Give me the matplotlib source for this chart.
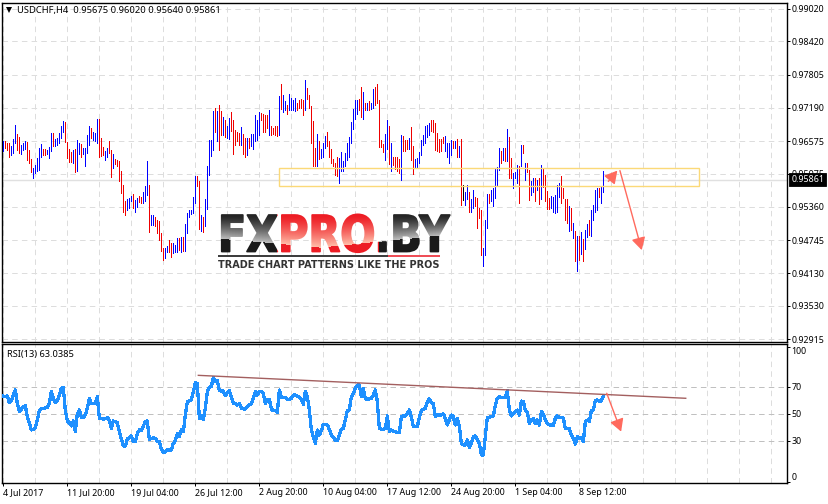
import numpy as np
import matplotlib
matplotlib.use("Agg")
import matplotlib.pyplot as plt
import matplotlib.patheffects as pe
from matplotlib.patches import Rectangle
from matplotlib.transforms import Affine2D, Bbox
from matplotlib.ticker import FixedLocator

W, H = 829, 504
plt.rcParams['font.family'] = ['Noto Sans', 'DejaVu Sans']

# ---------- data (prices in pips: 9658 = 0.9658) ----------
highs_a = [9658,9658,9654,9654,9649,9661,9687,9671,9665,9651,
9655,9658,9656,9641,9624,9608,9613,9627,9645,9652,
9643,9643,9641,9646,9672,9672,9662,9664,9672,9686,
9695,9693,9656,9643,9637,9641,9643,9660,9654,9652,
9645,9645,9669,9686,9682,9675,9672,9698,9698,9663,
9646,9640,9645,9657,9641,9634,9625,9623,9621,9603,
9577,9546,9550,9552,9556,9559,9549,9553,9556,9555,
9564,9574,9621,9577,9521,9521,9517,9512,9509,9487,
9460,9460,9464,9475,9470,9469,9466,9479,9478,9480,
9481,9505,9524,9530,9530,9555,9593,9593,9584,9521,
9518,9551,9611,9660,9660,9714,9719,9714,9724,9714,
9703,9696,9686,9700,9711,9697,9678,9674,9672,9683,
9670,9663,9663,9664,9670,9670,9706,9696,9711,9709,
9707,9706,9705,9715,9685,9682,9685,9686,9741]
lows_a = [9640,9645,9641,9629,9632,9635,9655,9641,9635,9634,
9641,9643,9623,9617,9600,9590,9598,9603,9604,9628,
9632,9631,9634,9627,9640,9648,9648,9651,9655,9663,
9674,9656,9626,9619,9619,9617,9600,9603,9634,9629,
9634,9612,9635,9650,9663,9660,9657,9655,9628,9630,
9632,9623,9628,9635,9592,9608,9616,9612,9584,9561,
9527,9521,9530,9534,9546,9534,9527,9535,9545,9544,
9543,9546,9558,9490,9503,9503,9500,9487,9474,9455,
9437,9441,9452,9453,9444,9450,9453,9452,9456,9453,
9455,9455,9487,9518,9522,9524,9543,9574,9495,9492,
9489,9500,9532,9595,9630,9641,9675,9658,9641,9669,
9669,9666,9663,9661,9677,9634,9651,9658,9650,9650,
9634,9629,9632,9645,9648,9643,9657,9659,9669,9697,
9675,9674,9682,9669,9669,9670,9669,9667,9669]
dirs_a = ("brrrbbbrrb" "bbrrrbbbbb" "rrbbbrbbbb" "brrrrbrbbr" "bbbbrbbbrr"
          "rbbrrbrrrr" "rrbbbrbbrr" "bbbrbbrrrr" "rbbrrbbbrb" "rbbbbbbrrb"
          "rbbbbbrbrr" "brbbrrrrrb" "rrbrbbbbbr" "rrrbrrrrb")

highs_b = [9764,9742,9731,9725,9745,9738,9734,9737,9728,9733,
9735,9733,9771,9756,9743,9723,9694,9645,9670,9657,
9643,9655,9667,9675,9658,9643,9625,9617,9629,9627,
9637,9620,9635,9654,9666,9693,9717,9733,9734,9735,
9757,9749,9729,9728,9731,9729,9754,9757,9764,9734,
9660,9653,9671,9697,9685,9654,9629,9628,9628,9625,
9669,9667,9660,9660,9663,9683,9649,9624,9626,9637,
9660,9669,9686,9688,9692,9696,9697,9691,9672,9662,
9661,9665,9667,9655,9655,9659,9658,9657,9661,9649,
9661,9577,9564,9577,9564,9550,9567,9555,9552,9534,
9530,9460,9512,9559,9560,9567,9571,9608,9609,9645,
9640,9645,9645,9680,9665,9626,9598,9600,9614,9612,
9651,9651,9617,9617,9604,9583,9589,9589,9585,9589]
lows_b = [9717,9711,9716,9708,9716,9716,9716,9714,9716,9719,
9719,9706,9716,9735,9719,9655,9611,9611,9611,9625,
9626,9629,9645,9648,9629,9617,9611,9595,9593,9581,
9603,9603,9612,9623,9629,9655,9680,9698,9707,9716,
9703,9699,9716,9716,9716,9717,9719,9725,9728,9646,
9646,9638,9622,9643,9616,9603,9614,9606,9603,9598,
9585,9640,9640,9643,9643,9623,9597,9608,9608,9618,
9632,9651,9654,9666,9669,9677,9675,9641,9640,9638,
9640,9655,9640,9629,9618,9632,9645,9645,9629,9629,
9540,9549,9540,9550,9527,9526,9534,9537,9497,9515,
9447,9426,9447,9497,9543,9546,9537,9552,9575,9604,
9617,9623,9621,9621,9589,9589,9571,9589,9580,9543,
9611,9635,9586,9601,9549,9558,9564,9546,9567,9542]
dirs_b = ("rbbrbbbbrr" "rrbrrrrrbr" "bbbrrrrrrb" "bbbbbbbbbr" "rbrbrbbrrr"
          "rrbbrbrrrr" "brrrbrrbbb" "bbbbbrrrrr" "rrbbbbrbrb" "rkbbrbbrrr"
          "rbbbrbbbbb" "rbrbrrbbbr" "brbrrbbrbr")

highs_c = [9614,9606,9595,9566,9553,9556,9554,9558,9577,9580,
9593,9571,9551,9551,9537,9534,9506,9492,9482,9482,
9489,9476,9493,9505,9512,9530,9540,9567,9571,9571,
9572,9603]
lows_c = [9551,9572,9547,9532,9532,9534,9526,9524,9527,9555,
9543,9552,9512,9507,9492,9493,9478,9436,9418,9438,
9449,9436,9458,9481,9484,9482,9512,9527,9530,9555,
9543,9563]
dirs_c = "brrrrbbbbb" "rrrrbrbrbr" "brbbrbbbbr" "bb"

rsi_a = [63.6,63.1,63.6,58.6,60.1,64.3,68.0,58.1,52.0,53.7,
55.7,56.4,48.3,43.8,38.4,38.9,40.1,45.8,52.7,54.5,
54.5,54.7,55.0,58.1,66.8,61.9,58.6,59.9,64.3,69.3,
69.8,52.5,45.1,43.8,41.4,45.1,37.2,50.3,53.2,47.8,
47.8,49.5,54.5,61.9,58.1,58.1,58.1,63.1,47.1,47.1,
46.3,46.8,47.5,45.8,39.6,45.1,44.6,43.8,37.2,31.7,
26.6,26.6,31.7,32.7,34.0,29.8,29.8,35.9,38.4,37.9,
41.4,44.6,45.1,31.5,32.0,32.5,32.2,29.8,29.8,24.1,
22.1,22.1,23.6,23.6,23.6,28.5,30.3,35.9,33.5,38.4,
37.2,49.5,59.4,59.9,60.6,66.8,73.5,73.0,47.1,48.8,
46.3,54.5,66.8,70.0,70.5,77.4,74.2,74.9,67.5,67.3,
67.3,63.8,66.1,67.5,63.1,58.1,58.1,56.9,58.1,54.5,
54.0,54.0,55.7,56.9,58.1,61.9,66.8,64.3,66.8,66.8,
65.6,58.1,60.6,61.1,54.0,52.7,52.7,51.2,68.0]
rsi_b = [62.6,62.6,62.6,61.1,61.1,61.9,64.3,64.3,63.6,62.6,
61.4,57.4,66.8,63.1,53.2,38.4,33.5,28.5,38.4,34.7,
37.9,42.6,42.6,42.1,38.9,34.7,33.0,30.5,30.5,34.7,
38.9,39.6,45.8,52.7,53.2,63.1,65.6,69.3,71.7,71.7,
63.1,69.3,61.4,61.4,61.4,61.9,64.3,68.0,59.4,39.6,
38.9,38.9,39.6,48.8,37.2,38.4,37.2,37.2,36.4,36.4,
48.3,48.8,48.8,50.7,53.2,48.3,40.9,40.9,40.9,47.8,
52.7,53.7,54.5,59.4,61.4,58.6,58.1,48.3,49.5,49.5,
49.5,50.3,47.1,42.1,45.8,49.5,48.3,42.1,47.1,41.4,
28.5,27.3,27.3,31.0,25.6,28.5,33.5,34.0,31.0,28.5,
19.9,19.9,33.5,47.8,47.8,48.3,48.8,56.9,61.9,63.1,
62.3,62.6,62.6,67.5,53.2,48.8,50.3,52.0,53.2,49.5,
59.9,59.4,53.2,51.2,43.3,45.8,46.8,43.3,45.8,42.1]
rsi_c = [52.0,50.3,45.8,43.3,42.1,42.1,41.4,47.1,48.8,47.8,
47.8,47.1,39.6,39.6,39.6,34.7,32.2,28.0,33.5,32.2,
33.0,29.8,44.6,45.8,44.6,52.7,53.2,60.1,60.6,59.4,
60.1,63.0]

price_ticks = [0.99020,0.98420,0.97805,0.97190,0.96575,0.95975,0.95360,0.94745,0.94130,0.93530,0.92915]
last_price = 0.95861
rsi_ticks = [0,30,50,70,100]
time_labels = ['4 Jul 2017','11 Jul 20:00','19 Jul 04:00','26 Jul 12:00','2 Aug 20:00',
               '10 Aug 04:00','17 Aug 12:00','24 Aug 20:00','1 Sep 04:00','8 Sep 12:00']
zone_bars = (138, 348)
zone_prices = (0.9574, 0.9608)
arrow_up = ((302.5, 0.9583), (307.0, 0.9603))
arrow_down = ((308.3, 0.9603), (319.2, 0.9456))
rsi_trend = ((97.5, 78.9), (341.2, 61.9))
rsi_arrow = ((301.7, 65.6), (308.9, 37.2))

highs = np.array(highs_a + highs_b + highs_c) / 1e4
lows = np.array(lows_a + lows_b + lows_c) / 1e4
dirs = dirs_a + dirs_b + dirs_c
rsi = np.array(rsi_a + rsi_b + rsi_c)
idx = np.arange(len(highs))

# ---------- layout ----------
def add_axes(fig, l, t, r, b):
    return fig.add_axes([l/W, 1-b/H, (r-l)/W, (b-t)/H])

fig = plt.figure(figsize=(W/100, H/100), dpi=100, facecolor='white')
ax = add_axes(fig, 2.5, 2.5, 786.7, 342.3)
ar = add_axes(fig, 2.5, 344.3, 786.7, 483.3)
xlim = (-0.415, 391.68)
PX = 0.72
GRID = '#dddddd'
DASH = (0, (5.5, 4.2))
TXT = 6.4

# main pane
ax.set_xlim(xlim)
ax.set_ylim(0.92854, 0.99140)
ax.vlines(idx, lows, highs, colors=[{'b':'#0000ff','r':'#ee0000','k':'#000000'}[d] for d in dirs],
          lw=PX, zorder=3, antialiased=False)
ax.axhline(last_price, color='#e0e0e0', lw=1.0, zorder=1)
ax.add_patch(Rectangle((zone_bars[0], zone_prices[0]), zone_bars[1]-zone_bars[0],
                       zone_prices[1]-zone_prices[0], fc='none', ec='#fbd978', lw=1.0, zorder=4))
for (p0, p1) in (arrow_up, arrow_down):
    ax.annotate('', xy=p1, xytext=p0,
                arrowprops=dict(arrowstyle='-|>,head_length=0.75,head_width=0.42', color='#ff6a5e',
                                lw=1.0, shrinkA=0, shrinkB=0, mutation_scale=10), zorder=5)

# RSI pane
ar.set_xlim(xlim)
ar.set_ylim(-1.1, 101.9)
ar.plot(idx, rsi, color='#1e90ff', lw=1.6, zorder=3, antialiased=False)
ar.plot(*zip(*rsi_trend), color='#a35f5f', lw=1.0, zorder=4)
ar.annotate('', xy=rsi_arrow[1], xytext=rsi_arrow[0],
            arrowprops=dict(arrowstyle='-|>,head_length=0.75,head_width=0.42', color='#ff6a5e',
                            lw=1.0, shrinkA=0, shrinkB=0, mutation_scale=10), zorder=5)

major = np.arange(len(time_labels)) * 32
minor = [v for v in range(16, 392, 16) if v not in set(major)]
for a in (ax, ar):
    a.xaxis.set_major_locator(FixedLocator(major))
    a.xaxis.set_minor_locator(FixedLocator(minor))
    a.yaxis.tick_right()
    a.grid(True, axis='x', which='both', color=GRID, lw=PX, ls=DASH, zorder=0)
    a.set_axisbelow(True)
    a.tick_params(axis='both', which='major', length=2.4, width=PX, pad=1.2, labelsize=TXT, colors='black')
    a.tick_params(axis='x', which='minor', length=0)
    for s in a.spines.values():
        s.set_linewidth(1.0)
        s.set_color('black')

ax.set_yticks(price_ticks)
ax.set_yticklabels([f'{v:.5f}' for v in price_ticks])
ax.grid(True, axis='y', color=GRID, lw=PX, ls=DASH, zorder=0)
ax.tick_params(axis='x', which='major', length=0, labelbottom=False)

ar.set_yticks(rsi_ticks)
ar.set_yticklabels([str(v) for v in rsi_ticks])
ar.grid(True, axis='y', color='#c0c0c0', lw=PX, ls=DASH, zorder=1)
for t, v in zip(ar.yaxis.get_major_ticks(), rsi_ticks):
    if v in (0, 100):
        t.gridline.set_visible(False)
    t.label2.set_va('top' if v == 100 else 'bottom' if v == 0 else 'center')
ar.set_xticklabels(time_labels, ha='left')

ax.annotate(f'{last_price:.5f}', xy=(1, last_price), xycoords=('axes fraction', 'data'),
            xytext=(3.4, 0), textcoords='offset points', va='center', ha='left',
            fontsize=TXT, color='white', annotation_clip=False, zorder=20,
            bbox=dict(fc='black', ec='black', boxstyle='square,pad=0.22', lw=0.6))

# overlay in pixels for header and logo
ov = fig.add_axes([0, 0, 1, 1], zorder=10)
ov.set_xlim(0, W); ov.set_ylim(H, 0); ov.axis('off'); ov.patch.set_alpha(0)
ov.plot([9.2], [10.2], marker='v', ms=4.8, color='black', mew=0)
ov.text(17.5, 10.5, 'USDCHF,H4  0.95675 0.96020 0.95640 0.95861', fontsize=6.75, va='center', ha='left')
ov.text(6.7, 354, 'RSI(13) 63.0385', fontsize=6.7, va='center', ha='left')

edge_x = [218, 320, 450]
edge_y = [238, 247, 234]
def logo_rgb(x, y):
    e = np.interp(x, edge_x, edge_y)
    red = 277 <= x < 378
    if y > e:
        return (0.93, 0.11, 0.14) if red else (0.10, 0.10, 0.10)
    t = np.clip((y - 215) / (e - 215), 0, 1) ** 1.3
    top = np.array((0.93, 0.11, 0.14) if red else (0.14, 0.14, 0.14))
    low = np.array((1.00, 0.74, 0.66) if red else (0.74, 0.74, 0.74))
    return tuple(top + (low - top) * t)

class LogoFill(pe.AbstractPathEffect):
    """Scales the logo word to its box and paints its vertical shading."""
    def __init__(self, x0, y0, sx, sy):
        super().__init__()
        self.x0, self.y0, self.sx, self.sy = x0, y0, sx, sy
    def draw_path(self, renderer, gc, tpath, affine, rgbFace=None):
        aff = affine + (Affine2D().translate(-self.x0, -self.y0)
                        .scale(self.sx, self.sy).translate(self.x0, self.y0))
        g = renderer.new_gc()
        g.copy_properties(gc)
        g.set_linewidth(1.3)
        hh = renderer.height
        for row in range(212, 256):
            for col in range(214, 456, 3):
                rgb = logo_rgb(col+1, row)
                g.set_foreground(rgb)
                g.set_clip_rectangle(Bbox.from_extents(col, hh-row-1, col+3, hh-row))
                renderer.draw_path(g, tpath, aff, rgb)
        g.restore()

ov.text(218, 251.5, 'FXPRO.BY', fontsize=26, fontweight='bold', family='DejaVu Sans',
        va='baseline', ha='left', path_effects=[LogoFill(218, H-251.5, 1.145, 1.385)])
ov.plot([218, 388], [255.7, 255.7], color='#2a2a2a', lw=1.3, solid_capstyle='butt')
ov.plot([388, 440], [255.7, 255.7], color='#ee3b45', lw=1.3, solid_capstyle='butt')
ov.text(218.5, 264.7, 'TRADE CHART PATTERNS LIKE THE PROS', fontsize=7.05, fontweight='bold',
        family='DejaVu Sans', color='#333333', va='center', ha='left')

fig.savefig('out.png', dpi=100, facecolor='white')
